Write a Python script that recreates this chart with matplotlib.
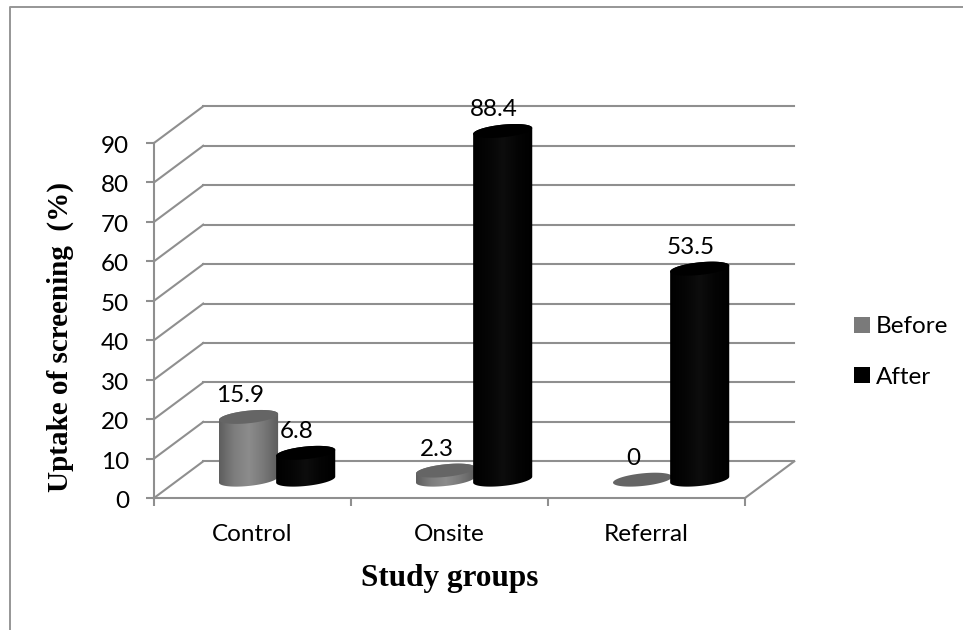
import numpy as np
import matplotlib
matplotlib.use('Agg')
import matplotlib.pyplot as plt
from matplotlib.colors import LinearSegmentedColormap
from matplotlib.lines import Line2D
from matplotlib.patches import Patch, Polygon
from matplotlib.transforms import ScaledTranslation

# Uptake values for each study group
groups = ['Control', 'Onsite', 'Referral']
before = [15.9, 2.3, 0]
after = [6.8, 88.4, 53.5]
y_ticks = [0, 10, 20, 30, 40, 50, 60, 70, 80, 90]
series_names = ['Before', 'After']

grid_col = '#8f8f8f'
depth_x = 0.25    # floor depth in category units
depth_y = 9.3     # floor depth in percent units
half_w = 0.15
semi_b = 1.6      # vertical semi axis of the cylinder caps
skew = 0.75       # caps lean up towards the right

grey_side = LinearSegmentedColormap.from_list('grey_side', ['#5e5e5e', '#7d7d7d', '#8c8c8c', '#787878', '#5c5c5c'])
black_side = LinearSegmentedColormap.from_list('black_side', ['#000000', '#050505', '#0d0d0d', '#040404', '#000000'])

W, H = 963, 630
fig = plt.figure(figsize=(W / 100, H / 100), dpi=100, facecolor='white')
ax = fig.add_axes([154 / W, 1 - 498 / H, 591 / W, 355 / H])
ax.patch.set_visible(False)

# Outer chart border, only top and left show
fig.add_artist(Line2D([9.5 / W, 9.5 / W, 1], [0, 1 - 7 / H, 1 - 7 / H], color='#969696', lw=1.4))


def cap_curve(cx, cy, n=80):
    t = np.linspace(0, 2 * np.pi, n)
    return cx + half_w * np.cos(t), cy + semi_b * np.sin(t) + skew * np.cos(t)


def draw_cylinder(cx, value, side_cmap, top_col, z):
    base = depth_y / 2
    top = base + value
    if value > 0:
        t = np.linspace(np.pi, 2 * np.pi, 60)
        low_x = cx + half_w * np.cos(t)
        low_y = base + semi_b * np.sin(t) + skew * np.cos(t)
        t2 = np.linspace(0, np.pi, 60)
        up_x = cx + half_w * np.cos(t2)
        up_y = top + semi_b * np.sin(t2) + skew * np.cos(t2)
        body = Polygon(np.column_stack([np.r_[low_x, up_x], np.r_[low_y, up_y]]),
                       closed=True, fc='none', ec='none', transform=ax.transData, clip_on=False)
        ax.add_patch(body)
        im = ax.imshow(np.linspace(0, 1, 128)[None, :], cmap=side_cmap, aspect='auto',
                       extent=[cx - half_w, cx + half_w, base - 5, top + 5], zorder=z)
        # let the tall cylinders rise past the top of the axes
        im.set_clip_box(fig.bbox)
        im.set_clip_path(body)
    xs, ys = cap_curve(cx, top)
    ax.fill(xs, ys, color=top_col, lw=0, zorder=z + 0.1, clip_on=False)


# Back wall lines and the slanted side wall lines
for v in y_ticks:
    ax.plot([0, depth_x], [v, v + depth_y], color=grid_col, lw=1.5, clip_on=False, zorder=1)
    ax.plot([depth_x, 3 + depth_x], [v + depth_y, v + depth_y], color=grid_col, lw=1.5, clip_on=False, zorder=1)
ax.plot([3, 3 + depth_x], [0, depth_y], color=grid_col, lw=1.5, clip_on=False, zorder=1)

for i, name in enumerate(groups):
    centre = i + 0.5 + depth_x / 2
    draw_cylinder(centre - 0.145, before[i], grey_side, '#656565', 3 + i)
    draw_cylinder(centre + 0.145, after[i], black_side, '#000000', 3.5 + i)
    for off, val in [(-0.145, before[i]), (0.145, after[i])]:
        label = f'{val:g}'
        ax.annotate(label, (centre + off, depth_y / 2 + val), xytext=(-9, 21), textcoords='offset pixels',
                    ha='center', va='center', fontsize=17.5, family='Lato', color='black',
                    annotation_clip=False, zorder=10)

ax.set_xlim(0, 3)
ax.set_ylim(0, 90)

for side in ['top', 'right']:
    ax.spines[side].set_visible(False)
for side in ['left', 'bottom']:
    ax.spines[side].set_color(grid_col)
    ax.spines[side].set_linewidth(1.5)

ax.set_yticks(y_ticks)
ax.set_xticks([0, 1, 2, 3])
ax.set_xticklabels([])
ax.set_xticks([0.5, 1.5, 2.5], groups, minor=True)
ax.tick_params(axis='x', which='major', length=6, width=1.5, color=grid_col)
ax.tick_params(axis='x', which='minor', length=0, pad=19, labelsize=17.5)
ax.tick_params(axis='y', length=6, width=1.5, color=grid_col, pad=12, labelsize=17.5)
for lab in ax.get_yticklabels() + ax.get_xticklabels(minor=True):
    lab.set_family('Lato')
# nudge the value labels a little below their ticks
nudge = ScaledTranslation(0, -1.5 / 100, fig.dpi_scale_trans)
for lab in ax.get_yticklabels():
    lab.set_transform(lab.get_transform() + nudge)

ax.set_ylabel('Uptake of screening  (%)', family='Liberation Serif', weight='bold', fontsize=21)
ax.yaxis.set_label_coords(-80 / 591, 0.4535)
ax.set_xlabel('Study groups', family='Liberation Serif', weight='bold', fontsize=22.5)
ax.xaxis.set_label_coords(0.5, -66 / 355)

handles = [Patch(fc='#7a7a7a', ec='none'), Patch(fc='black', ec='none')]
fig.legend(handles, series_names, loc='center left', bbox_to_anchor=(832 / W, 1 - 352 / H), frameon=False,
           prop={'family': 'Lato', 'size': 17.5}, handlelength=0.65, handleheight=0.65,
           handletextpad=0.25, labelspacing=1.2)

fig.savefig('out.png', dpi=100, facecolor='white')
